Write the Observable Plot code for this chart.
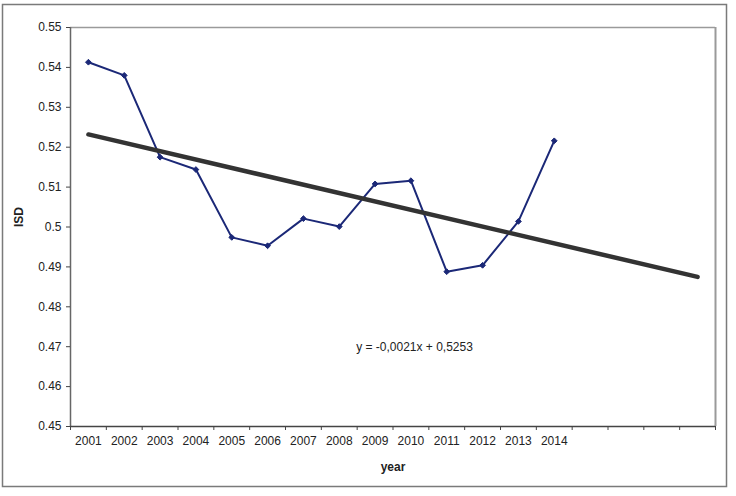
<!DOCTYPE html>
<html>
<head>
<meta charset="utf-8">
<script src="https://cdn.jsdelivr.net/npm/d3@7"></script>
<script src="https://cdn.jsdelivr.net/npm/@observablehq/plot@0.6"></script>
<style>
  body { margin: 0; background: #fff; }
  svg { display: block; }
</style>
</head>
<body>
<div id="chart"></div>
<script>
// Yearly ISD values
const years = ["2001", "2002", "2003", "2004", "2005", "2006", "2007",
               "2008", "2009", "2010", "2011", "2012", "2013", "2014"];
const isd = [0.5413, 0.5380, 0.5175, 0.5144, 0.4974, 0.4953, 0.5021,
             0.5001, 0.5108, 0.5116, 0.4888, 0.4904, 0.5014, 0.5216];

// Category slots on the x axis (14 years plus 4 forecast slots)
const slotCount = 18;

// Linear trend: y = -0,0021x + 0,5253
const trendSlope = -0.0021;
const trendIntercept = 0.5253;

const yTicks = [0.45, 0.46, 0.47, 0.48, 0.49, 0.5, 0.51, 0.52, 0.53, 0.54, 0.55];

const series = years.map((year, i) => ({slot: i + 1, year, isd: isd[i]}));
const trend = [1, slotCount].map(s => ({slot: s, value: trendIntercept + trendSlope * s}));
const boundaries = d3.range(0, slotCount + 1).map(i => i + 0.5);
const comma = v => String(v).replace(".", ",");
const equation = `y = ${comma(trendSlope)}x + ${comma(trendIntercept)}`;

const navy = "#1b2877";

const chart = Plot.plot({
  width: 736,
  height: 496,
  marginLeft: 70,
  marginRight: 21,
  marginTop: 27,
  marginBottom: 70,
  style: {
    fontFamily: "'Liberation Sans', Arial, sans-serif",
    fontSize: "12px",
    color: "#222",
    background: "#fff"
  },
  x: {type: "linear", domain: [0.5, slotCount + 0.5]},
  y: {domain: [0.45, 0.55]},
  marks: [
    // outer chart border
    Plot.frame({stroke: "#7a7a7a", strokeWidth: 1.5,
                insetLeft: -68, insetTop: -23, insetRight: -11, insetBottom: -60}),
    // plot area border (top / right)
    Plot.ruleY([0.55], {stroke: "#9a9a9a", strokeWidth: 1.5}),
    Plot.ruleX([slotCount + 0.5], {stroke: "#9a9a9a", strokeWidth: 2}),
    // axes lines
    Plot.ruleX([0.5], {stroke: "#666", strokeWidth: 1.5}),
    Plot.ruleY([0.45], {stroke: "#444", strokeWidth: 1.5}),
    Plot.axisY({ticks: yTicks, tickSize: 4, tickPadding: 5, tickFormat: d => String(d),
                label: null, stroke: "#444"}),
    Plot.axisX({ticks: boundaries, tickSize: 4, tickFormat: () => "", label: null, stroke: "#444"}),
    Plot.axisX({ticks: series.map(d => d.slot), tickSize: 0, tickPadding: 10,
                tickFormat: s => years[s - 1], label: null}),
    // series
    Plot.line(series, {x: "slot", y: "isd", stroke: navy, strokeWidth: 2}),
    Plot.dot(series, {x: "slot", y: "isd", symbol: "diamond2", r: 2.6, fill: navy,
                      stroke: navy, strokeWidth: 1}),
    // trend line
    Plot.line(trend, {x: "slot", y: "value", stroke: "#333", strokeWidth: 4.5}),
    Plot.text([equation], {frameAnchor: "top-left", dx: 344, dy: 320, textAnchor: "middle",
                           lineAnchor: "middle", fill: "#222", fontSize: 12}),
    // axis titles
    Plot.text(["ISD"], {frameAnchor: "left", dx: -51, rotate: -90, fontWeight: "bold",
                        fill: "#222", fontSize: 12}),
    Plot.text(["year"], {frameAnchor: "bottom", dy: 41, lineAnchor: "middle", fontWeight: "bold",
                         fill: "#222", fontSize: 12})
  ]
});

document.getElementById("chart").append(chart);
</script>
</body>
</html>
